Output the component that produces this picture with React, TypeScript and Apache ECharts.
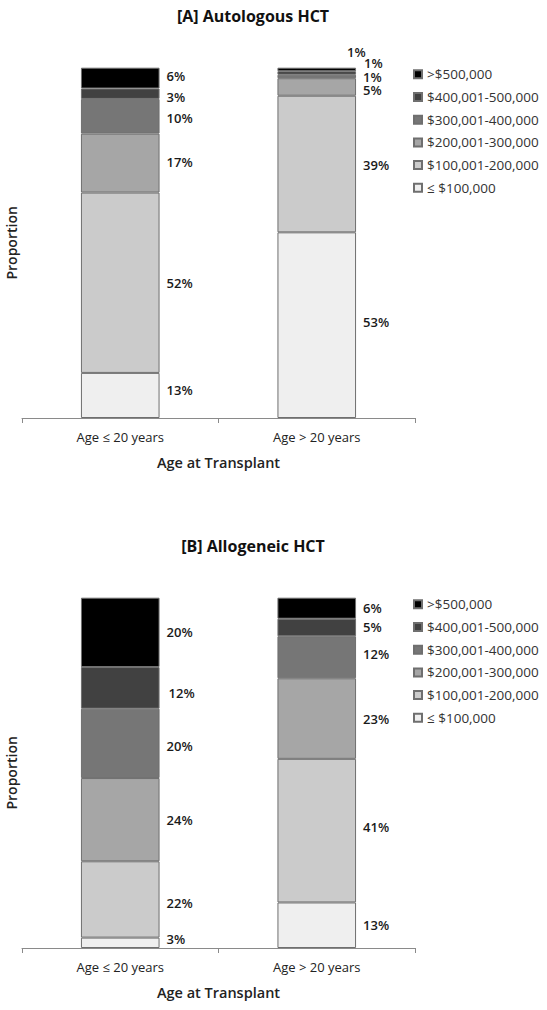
import React, { useEffect, useRef } from "react";
import * as echarts from "echarts";

const categories = ["Age ≤ 20 years", "Age > 20 years"];
const brackets = [
  "≤ $100,000",
  "$100,001-200,000",
  "$200,001-300,000",
  "$300,001-400,000",
  "$400,001-500,000",
  ">$500,000",
];
// values per bracket (bottom to top), in percent as labelled
const autoLe20 = [13, 52, 17, 10, 3, 6];
const autoGt20 = [53, 39, 5, 1, 1, 1];
const alloLe20 = [3, 22, 24, 20, 12, 20];
const alloGt20 = [13, 41, 23, 12, 5, 6];

const colors = ["#efefef", "#cbcbcb", "#a6a6a6", "#767676", "#414141", "#000000"];

// label nudges [dx, dy] for [le20, gt20] per bracket (style only)
const autoNudge = [
  [[0, -5], [0, -3]],
  [[0, 0], [0, 1]],
  [[0, -1.5], [0, 3]],
  [[0, 1.5], [0, 0.5]],
  [[0, 3], [1, -10]],
  [[0, -2], [-16, -17.5]],
];
const alloNudge = [
  [[0, -4], [0, 0]],
  [[0, 3.5], [0, -4]],
  [[0, 0], [0, 0]],
  [[0, 2.5], [0, -3]],
  [[2, 5], [0, 0]],
  [[0, 0], [0, 0]],
];

const FONT = "'Open Sans', 'DejaVu Sans', sans-serif";
const GRID_TOP = [67.7, 597.7];
const GRID_H = 350.3;

function buildSeries(panel: number, le: number[], gt: number[], nudge: number[][][]) {
  const totals = [le.reduce((a, b) => a + b, 0), gt.reduce((a, b) => a + b, 0)];
  return brackets.map((name, k) => {
    const raw = [le[k], gt[k]];
    return {
      name,
      type: "bar",
      stack: "s" + panel,
      xAxisIndex: panel,
      yAxisIndex: panel,
      barWidth: "40%",
      itemStyle: { color: colors[k], borderColor: "#6f6f6f", borderWidth: 1 },
      label: {
        show: true,
        position: "right",
        distance: 7,
        fontFamily: FONT,
        fontSize: 13,
        lineHeight: 12,
        fontWeight: 600,
        color: "#1a1a1a",
        formatter: (p: any) => raw[p.dataIndex] + "%",
      },
      data: raw.map((v, i) => ({
        value: (v / totals[i]) * 100,
        label: { offset: nudge[k][i] },
      })),
    };
  });
}

function App() {
  const ref = useRef<HTMLDivElement>(null);
  useEffect(() => {
    document.body.style.margin = "0";
    const chart = echarts.init(ref.current!, null, { renderer: "svg" });
    const axisColor = "#8a8a8a";
    const xAxes = [0, 1].map((i) => ({
      type: "category",
      gridIndex: i,
      data: categories,
      axisLine: { lineStyle: { color: axisColor, width: 1 } },
      axisTick: { show: true, length: 5, lineStyle: { color: axisColor } },
      axisLabel: { margin: 12, fontFamily: FONT, fontSize: 13, color: "#222" },
      name: "Age at Transplant",
      nameLocation: "middle",
      nameGap: 37,
      nameTextStyle: { fontFamily: FONT, fontSize: 14.5, fontWeight: 600, color: "#222" },
    }));
    const yAxes = [0, 1].map((i) => ({
      type: "value",
      gridIndex: i,
      min: 0,
      max: 100,
      axisLine: { show: false },
      axisTick: { show: false },
      axisLabel: { show: false },
      splitLine: { show: false },
      name: "Proportion",
      nameLocation: "middle",
      nameGap: 4,
      nameTextStyle: { fontFamily: FONT, fontSize: 14, fontWeight: 600, color: "#222" },
    }));
    const legendNames = brackets.slice().reverse();
    const titleStyle = {
      textAlign: "center",
      textVerticalAlign: "middle",
      fontFamily: FONT,
      fontSize: 16,
      fontWeight: "bold",
      fill: "#111",
    };
    chart.setOption({
      animation: false,
      backgroundColor: "#ffffff",
      graphic: [
        { type: "text", x: 253, y: 16, style: { ...titleStyle, text: "[A] Autologous HCT" } },
        { type: "text", x: 253, y: 546, style: { ...titleStyle, text: "[B] Allogeneic HCT" } },
      ],
      grid: GRID_TOP.map((t) => ({
        left: 22,
        width: 393,
        top: t,
        height: GRID_H,
        containLabel: false,
        outerBoundsMode: "none",
      })),
      legend: GRID_TOP.map((t) => ({
        orient: "vertical",
        left: 408,
        top: t - 5.4,
        itemWidth: 8,
        itemHeight: 8,
        itemGap: 8.7,
        icon: "rect",
        data: legendNames,
        selectedMode: false,
        textStyle: { fontFamily: FONT, fontSize: 13.5, color: "#333" },
      })),
      xAxis: xAxes,
      yAxis: yAxes,
      series: [
        ...buildSeries(0, autoLe20, autoGt20, autoNudge),
        ...buildSeries(1, alloLe20, alloGt20, alloNudge),
      ],
    });
    return () => chart.dispose();
  }, []);
  return <div ref={ref} style={{ width: 547, height: 1010 }} />;
}

export default App;
